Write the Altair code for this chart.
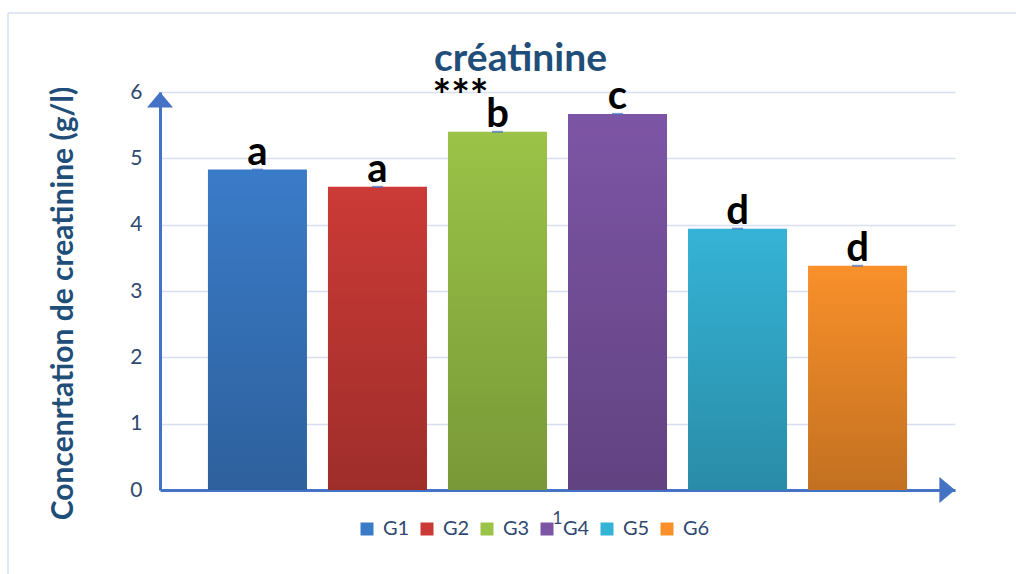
import altair as alt
import pandas as pd

# Serum creatinine per group (g/l), with the significance letter for each group
groups = ["G1", "G2", "G3", "G4", "G5", "G6"]
values = [4.83, 4.57, 5.40, 5.67, 3.94, 3.38]
letters = ["a", "a", "b", "c", "d", "d"]
colors = ["#3A7BC8", "#CB3A36", "#9AC347", "#7D55A5", "#35B3D6", "#F9902A"]
category = "1"

df = pd.DataFrame({"cat": category, "group": groups, "value": values, "letter": letters})

AXIS_BLUE = "#4472C4"
TEXT_BLUE = "#2F4870"
TITLE_BLUE = "#1F4E79"
FONT = "Lato"

W, H = 795, 398

x_enc = alt.X("cat:N", title=None,
              scale=alt.Scale(paddingOuter=0.052, paddingInner=0),
              axis=alt.Axis(labelAngle=0, labelFontSize=17, labelColor=TEXT_BLUE,
                            labelPadding=20, ticks=False, domainColor=AXIS_BLUE,
                            domainWidth=3, labelFont=FONT))
xo_enc = alt.XOffset("group:N", scale=alt.Scale(domain=groups, paddingInner=0.175,
                                                paddingOuter=0.0875))
y_scale = alt.Scale(domain=[0, 6], nice=False)

base = alt.Chart(df)

bars = base.mark_bar().encode(
    x=x_enc,
    xOffset=xo_enc,
    y=alt.Y("value:Q", scale=y_scale,
            title="Concenrtation de creatinine (g/l)",
            axis=alt.Axis(values=[0, 1, 2, 3, 4, 5, 6], format="d", ticks=False,
                          labelFontSize=21, labelColor=TEXT_BLUE, labelPadding=18,
                          labelFont=FONT, domainColor=AXIS_BLUE, domainWidth=3,
                          gridColor="#D6E0F0", gridWidth=1.5,
                          titleFontSize=30, titleFontWeight="bold", titleColor=TITLE_BLUE,
                          titleFont=FONT, titleAngle=-90, titleAlign="center",
                          titleBaseline="middle", titleX=-97, titleY=211)),
    color=alt.Color("group:N", scale=alt.Scale(domain=groups, range=colors),
                    legend=alt.Legend(title=None, orient="none", direction="horizontal",
                                      legendX=197, legendY=427, symbolType="square",
                                      symbolSize=169, symbolStrokeWidth=0,
                                      labelFontSize=20, labelColor=TEXT_BLUE,
                                      labelFont=FONT, labelOffset=6, columnPadding=7)),
)

# darker toward the bottom of every bar
shade = base.mark_bar(
    color=alt.Gradient(
        gradient="linear", x1=0, x2=0, y1=0, y2=1,
        stops=[alt.GradientStop(color="rgba(0,0,0,0)", offset=0),
               alt.GradientStop(color="rgba(0,0,0,0.22)", offset=1)],
    )
).encode(x="cat:N", xOffset="group:N", y=alt.Y("value:Q", scale=y_scale))

err = base.mark_tick(color=AXIS_BLUE, thickness=2, size=11).encode(
    x="cat:N", xOffset="group:N", y=alt.Y("value:Q", scale=y_scale)
)

labels = base.mark_text(fontSize=40, fontWeight="bold", color="black", font=FONT,
                        baseline="alphabetic", dy=-5).encode(
    x="cat:N", xOffset="group:N", y=alt.Y("value:Q", scale=y_scale), text="letter:N"
)

stars = alt.Chart(pd.DataFrame({"cat": [category], "group": ["G3"], "t": ["***"]})).mark_text(
    fontSize=44, fontWeight="bold", color="black", font=FONT, baseline="middle",
    dx=-37, dy=6
).encode(x="cat:N", xOffset="group:N", y=alt.datum(6), text="t:N")

# arrowheads at the ends of both axes
up_arrow = alt.Chart(pd.DataFrame({"v": [6]})).mark_point(
    shape="M0,0L-1,1.2L1,1.2Z", size=676, filled=True, color=AXIS_BLUE, opacity=1
).encode(x=alt.value(0), y=alt.Y("v:Q", scale=y_scale))

right_arrow = alt.Chart(pd.DataFrame({"v": [0]})).mark_point(
    shape="M0,0L-1.2,-1L-1.2,1Z", size=676, filled=True, color=AXIS_BLUE, opacity=1
).encode(x=alt.value(W), y=alt.Y("v:Q", scale=y_scale))

# outer chart frame
frame_color = "#D9E1EC"
frame_left = alt.Chart(pd.DataFrame({"k": [0]})).mark_rule(color=frame_color, strokeWidth=1.5).encode(
    x=alt.value(-152), y=alt.value(-79), y2=alt.value(H + 84)
)
frame_top = alt.Chart(pd.DataFrame({"k": [0]})).mark_rule(color=frame_color, strokeWidth=1.5).encode(
    x=alt.value(-152), x2=alt.value(W + 61), y=alt.value(-79)
)

chart = alt.layer(
    frame_left, frame_top, bars, shade, err, labels, stars, up_arrow, right_arrow
).properties(
    width=W, height=H,
    title=alt.TitleParams("créatinine", fontSize=39, fontWeight="bold", color=TITLE_BLUE,
                          font=FONT, anchor="middle", frame="group", offset=0,
                          dx=-37, dy=67),
    autosize=alt.AutoSizeParams(type="none"),
    padding={"left": 160, "top": 92, "right": 61, "bottom": 84},
).configure(background="white").configure_view(strokeWidth=0)

chart.save("out.html", embed_options={"renderer": "svg", "actions": False})
